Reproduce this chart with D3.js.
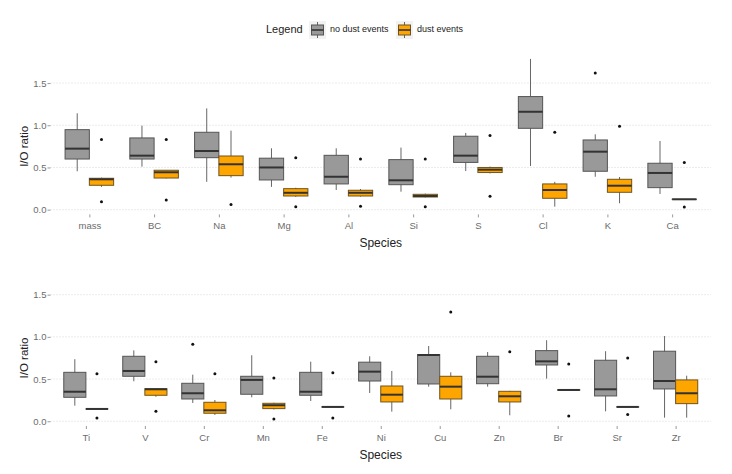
<!DOCTYPE html>
<html>
<head>
<meta charset="utf-8">
<script src="https://cdn.jsdelivr.net/npm/d3@7"></script>
<style>
  body { margin: 0; background: #fff; }
  text { font-family: "Liberation Sans", Arial, sans-serif; }
</style>
</head>
<body>
<div id="viz"></div>
<script>
// species on each row
var topSpecies = ["mass", "BC", "Na", "Mg", "Al", "Si", "S", "Cl", "K", "Ca"];
var bottomSpecies = ["Ti", "V", "Cr", "Mn", "Fe", "Ni", "Cu", "Zn", "Br", "Sr", "Zr"];

// box stats: [lower whisker, q1, median, q3, upper whisker]
var topNoDust = [
  [0.455, 0.60, 0.723, 0.948, 1.142],
  [0.51, 0.60, 0.64, 0.85, 0.995],
  [0.33, 0.616, 0.695, 0.917, 1.20],
  [0.27, 0.352, 0.50, 0.61, 0.727],
  [0.233, 0.305, 0.39, 0.644, 0.727],
  [0.213, 0.296, 0.348, 0.593, 0.735],
  [0.458, 0.56, 0.64, 0.87, 0.909],
  [0.518, 0.964, 1.16, 1.34, 1.786],
  [0.39, 0.455, 0.687, 0.826, 0.893],
  [0.186, 0.261, 0.435, 0.55, 0.814]
];
var topNoDustOut = [[], [], [], [], [], [], [], [], [1.62], []];

var topDust = [
  [0.27, 0.289, 0.36, 0.372, 0.38],
  [0.37, 0.375, 0.443, 0.467, 0.47],
  [0.38, 0.403, 0.538, 0.636, 0.936],
  [0.15, 0.162, 0.20, 0.249, 0.26],
  [0.155, 0.162, 0.20, 0.23, 0.245],
  [0.145, 0.15, 0.162, 0.182, 0.19],
  [0.43, 0.44, 0.474, 0.50, 0.51],
  [0.036, 0.135, 0.233, 0.305, 0.33],
  [0.076, 0.206, 0.284, 0.36, 0.387],
  [0.123, 0.123, 0.123, 0.123, 0.123]
];
var topDustOut = [[0.83, 0.095], [0.83, 0.115], [0.06], [0.616, 0.036], [0.60, 0.04],
                  [0.60, 0.035], [0.88, 0.16], [0.917], [0.988], [0.56, 0.032]];

var bottomNoDust = [
  [0.185, 0.284, 0.35, 0.58, 0.735],
  [0.474, 0.533, 0.596, 0.77, 0.84],
  [0.217, 0.264, 0.332, 0.45, 0.552],
  [0.284, 0.32, 0.49, 0.533, 0.782],
  [0.24, 0.308, 0.35, 0.58, 0.706],
  [0.335, 0.477, 0.588, 0.70, 0.77],
  [0.41, 0.442, 0.785, 0.79, 0.892],
  [0.41, 0.445, 0.528, 0.77, 0.82],
  [0.505, 0.667, 0.71, 0.837, 0.96],
  [0.118, 0.30, 0.379, 0.723, 0.83],
  [0.043, 0.383, 0.477, 0.83, 1.01]
];
var bottomNoDustOut = [[], [], [0.912], [], [], [], [], [], [], [], []];

var bottomDust = [
  [0.146, 0.146, 0.146, 0.146, 0.146],
  [0.29, 0.308, 0.379, 0.386, 0.39],
  [0.075, 0.095, 0.13, 0.225, 0.252],
  [0.14, 0.15, 0.19, 0.213, 0.22],
  [0.17, 0.17, 0.17, 0.17, 0.17],
  [0.114, 0.229, 0.315, 0.418, 0.596],
  [0.142, 0.264, 0.41, 0.533, 0.58],
  [0.071, 0.229, 0.296, 0.355, 0.36],
  [0.368, 0.368, 0.371, 0.374, 0.374],
  [0.165, 0.17, 0.17, 0.17, 0.18],
  [0.043, 0.209, 0.332, 0.49, 0.54]
];
var bottomDustOut = [[0.564, 0.04], [0.706, 0.118], [0.564], [0.513, 0.027], [0.576, 0.04],
                     [], [1.295], [0.825], [0.68, 0.063], [0.75, 0.079], []];

var yTicks = [0, 0.5, 1.0, 1.5];
var groups = ["no dust events", "dust events"];
var colors = ["#999999", "#FFA500"];

var W = 732, H = 474;
var svg = d3.select("#viz").append("svg").attr("width", W).attr("height", H);

function drawPanel(species, noDust, noDustOut, dust, dustOut, top, bottom) {
  var left = 50.5, right = 711;
  var x = d3.scalePoint().domain(species).range([left, right]).padding(0.6);
  var y = d3.scaleLinear().domain([-0.056, 1.874]).range([bottom, top]);
  var step = x.step();
  var bw = step * 0.375;
  var g = svg.append("g");

  // dotted grid
  g.selectAll(".grid").data(yTicks).enter().append("line")
    .attr("x1", left).attr("x2", right)
    .attr("y1", d => y(d)).attr("y2", d => y(d))
    .attr("stroke", "#cfcfcf").attr("stroke-width", 0.8)
    .attr("stroke-dasharray", "1,2");

  // axes
  var ya = g.append("g").attr("transform", "translate(" + left + ",0)")
    .call(d3.axisLeft(y).tickValues(yTicks).tickFormat(d3.format(".1f")).tickSize(3));
  var xa = g.append("g").attr("transform", "translate(0," + bottom + ")")
    .call(d3.axisBottom(x).tickSize(3));
  [ya, xa].forEach(function(a) {
    a.select(".domain").remove();
    a.selectAll(".tick line").attr("stroke", "#9a9a9a");
    a.selectAll(".tick text").attr("fill", "#6b6b6b").style("font-size", "9.5px");
  });
  ya.selectAll(".tick text").attr("x", -4);
  xa.selectAll(".tick text").attr("y", 8);

  g.append("text").attr("x", (left + right) / 2).attr("y", bottom + 33)
    .attr("text-anchor", "middle").style("font-size", "12px").attr("fill", "#222")
    .text("Species");
  g.append("text").attr("transform", "translate(28," + y(0.75) + ") rotate(-90)")
    .attr("text-anchor", "middle").style("font-size", "11.5px").attr("fill", "#222")
    .text("I/O ratio");

  [[noDust, noDustOut], [dust, dustOut]].forEach(function(set, gi) {
    var off = (gi === 0 ? -1 : 1) * step * 0.1875;
    set[0].forEach(function(s, i) {
      var cx = x(species[i]) + off;
      var bg = g.append("g");
      bg.append("line").attr("x1", cx).attr("x2", cx)
        .attr("y1", y(s[0])).attr("y2", y(s[4]))
        .attr("stroke", "#555").attr("stroke-width", 0.9);
      bg.append("rect").attr("x", cx - bw / 2).attr("width", bw)
        .attr("y", y(s[3])).attr("height", Math.max(0.01, y(s[1]) - y(s[3])))
        .attr("fill", colors[gi]).attr("stroke", gi === 0 ? "#555" : "#6e5420")
        .attr("stroke-width", 1);
      bg.append("line").attr("x1", cx - bw / 2).attr("x2", cx + bw / 2)
        .attr("y1", y(s[2])).attr("y2", y(s[2]))
        .attr("stroke", "#333").attr("stroke-width", 2);
      set[1][i].forEach(function(o) {
        bg.append("circle").attr("cx", cx).attr("cy", y(o)).attr("r", 1.5).attr("fill", "#111");
      });
    });
  });
}

drawPanel(topSpecies, topNoDust, topNoDustOut, topDust, topDustOut, 51.5, 214.4);
drawPanel(bottomSpecies, bottomNoDust, bottomNoDustOut, bottomDust, bottomDustOut, 263.1, 426);

// legend
var lg = svg.append("g");
lg.append("text").attr("x", 266).attr("y", 30).attr("dominant-baseline", "middle")
  .style("font-size", "11px").attr("fill", "#222").text("Legend");
var keyX = [310, 397], labX = [330, 417];
groups.forEach(function(name, i) {
  lg.append("rect").attr("x", keyX[i] - 1).attr("y", 21).attr("width", 17).attr("height", 18)
    .attr("fill", "#f2f2f2");
  lg.append("line").attr("x1", keyX[i] + 7.5).attr("x2", keyX[i] + 7.5).attr("y1", 22).attr("y2", 38)
    .attr("stroke", "#555").attr("stroke-width", 0.9);
  lg.append("rect").attr("x", keyX[i] + 1.5).attr("y", 25).attr("width", 12).attr("height", 10)
    .attr("fill", colors[i]).attr("stroke", i === 0 ? "#555" : "#6e5420");
  lg.append("line").attr("x1", keyX[i] + 1.5).attr("x2", keyX[i] + 13.5).attr("y1", 30).attr("y2", 30)
    .attr("stroke", "#333").attr("stroke-width", 1.6);
  lg.append("text").attr("x", labX[i]).attr("y", 30).attr("dominant-baseline", "middle")
    .style("font-size", "9px").attr("fill", "#222").text(name);
});
</script>
</body>
</html>
